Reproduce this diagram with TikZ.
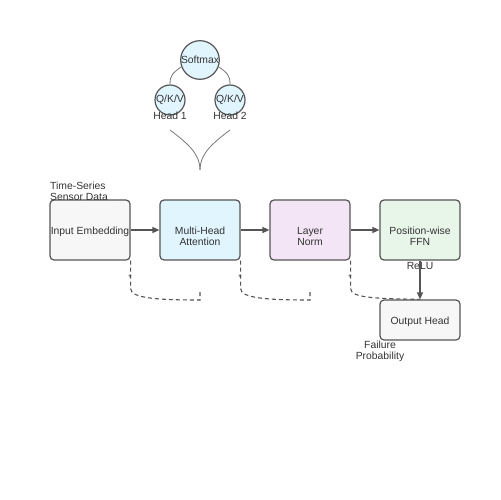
\documentclass[tikz,border=0pt]{standalone}
\usepackage{fontspec}
\setmainfont{Liberation Sans}
\usetikzlibrary{arrows.meta}
\definecolor{edge}{HTML}{555555}
\definecolor{ink}{HTML}{333333}
\definecolor{greyfill}{HTML}{F7F7F7}
\definecolor{bluefill}{HTML}{E1F5FE}
\definecolor{pinkfill}{HTML}{F3E5F5}
\definecolor{greenfill}{HTML}{E8F5E9}

\begin{document}
\begin{tikzpicture}[x=1bp,y=-1bp,
    txt/.style={font=\fontsize{10.4}{10.8}\selectfont,text=ink,align=center,inner sep=0},
    boxtxt/.style={txt,anchor=base},
    box/.style={draw=edge,line width=1.2bp,rounded corners=4bp,minimum width=80bp,minimum height=60bp},
    head/.style={txt,draw=edge,line width=1.2bp,fill=bluefill,circle,minimum size=30bp},
    flow/.style={draw=edge,line width=1.2bp,-{Triangle[length=7bp,width=6bp]}},
    res/.style={draw=edge,line width=1.1bp,dash pattern=on 4bp off 3bp},
    thin/.style={draw=edge!80,line width=0.8bp},
    plus/.style={font=\fontsize{6.5}{6.5}\selectfont,text=ink,inner sep=0}]
  \useasboundingbox (0,0) rectangle (500,500);
  % attention heads
  \node[head] (sm) at (200,60) {Softmax};
  \node[head] (h1) at (170,100) {Q/K/V};
  \node[head] (h2) at (230,100) {Q/K/V};
  \node[txt] (h1t) at (170,116) {Head 1};
  \node[txt] (h2t) at (230,116) {Head 2};
  \draw[thin] (h1.north) .. controls +(0,-10) and +(-8,6) .. (sm.200);
  \draw[thin] (h2.north) .. controls +(0,-10) and +(8,6) .. (sm.-20);
  \coordinate (f1) at (170,130);
  \coordinate (f2) at (230,130);
  \coordinate (fm) at (200,170);
  \draw[thin] (f1) .. controls (190,145) and (200,155) .. (fm);
  \draw[thin] (f2) .. controls (210,145) and (200,155) .. (fm);
  % main blocks
  \node[box,fill=greyfill] (emb) at (90,230) {};
  \node[box,fill=bluefill] (mha) at (200,230) {};
  \node[box,fill=pinkfill] (ln) at (310,230) {};
  \node[box,fill=greenfill] (ffn) at (420,230) {};
  \node[box,fill=greyfill,minimum height=40bp] (out) at (420,320) {};
  \node[boxtxt] (embt) at (90,234.5) {Input Embedding};
  \node[boxtxt] (mhat) at (200,245.5) {Multi-Head\\Attention};
  \node[boxtxt] (lnt) at (310,245.5) {Layer\\Norm};
  \node[boxtxt] (ffnt) at (420,245.5) {Position-wise\\FFN};
  \node[boxtxt] (outt) at (420,324.5) {Output Head};
  \node[txt,anchor=west,align=left] (src) at (50,191) {Time-Series\\Sensor Data};
  \node[txt] (relu) at (420,266) {ReLU};
  \node[txt] (prob) at (380,351) {Failure\\Probability};
  \draw[flow] (emb) -- (mha);
  \draw[flow] (mha) -- (ln);
  \draw[flow] (ln) -- (ffn);
  \draw[flow] (ffn) -- (out);
  % residual paths
  \coordinate (r1) at (200,290);
  \coordinate (r2) at (310,290);
  \draw[res] (emb.south east) -- ++(0,28) .. controls +(0,10) and +(-40,0) .. (200,300) -- (r1);
  \draw[res] (mha.south east) -- ++(0,28) .. controls +(0,10) and +(-40,0) .. (310,300) -- (r2);
  \draw[res] (ln.south east) -- ++(0,28) .. controls +(0,10) and +(-40,-1) .. (out.north);
  \foreach \x in {130,240,350}
    \node[plus] at (\x,277) {+};
\end{tikzpicture}
\end{document}
